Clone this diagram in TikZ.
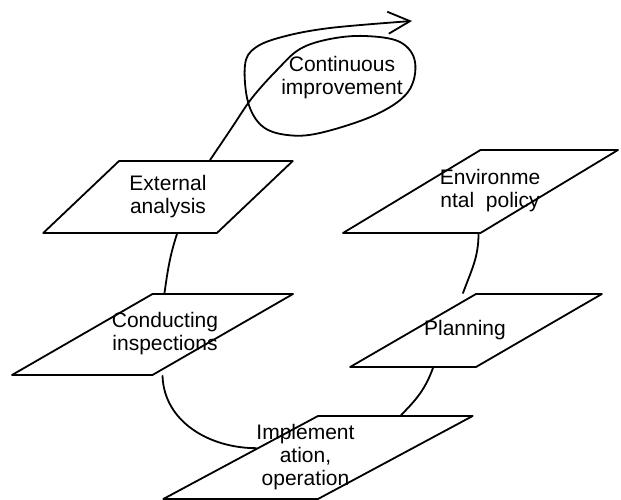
\documentclass[tikz,border=0pt]{standalone}
\usepackage{fontspec}
\setmainfont{Liberation Sans}
\usetikzlibrary{positioning,shapes.geometric,calc,arrows.meta}

% text block nudged sideways inside its shape
\newcommand{\nudged}[2]{\makebox[0pt]{\hspace*{#1}\begin{tabular}{@{}c@{}}#2\end{tabular}}}

\begin{document}
\begin{tikzpicture}[
    x=1pt, y=1pt,
    para/.style = {
        trapezium,
        trapezium left angle=35.5,
        trapezium right angle=144.5,
        trapezium stretches=true,
        draw=black,
        line width=1.8pt,
        align=center,
        inner sep=0pt,
        font=\fontsize{21}{23}\selectfont
    },
    note/.style  = {align=center, inner sep=0pt, font=\fontsize{21}{23}\selectfont},
    link/.style  = {line width=1.8pt, draw=black},
    arrow/.style = {link, -{Straight Barb[length=22pt,width=22pt]}},
    line cap=round, line join=round
]
\useasboundingbox (0,0) rectangle (621,500);

% Left column
\node[para, minimum width=250pt, minimum height=72pt] (extern) at (168,303) {External\\analysis};
\node[para, minimum width=281pt, minimum height=81pt] (inspect) at (152.5,165.5) {\nudged{25pt}{Conducting\\inspections}};

% Right column
\node[para, minimum width=275pt, minimum height=83pt] (policy) at (480.5,308.5) {\nudged{19pt}{Environme\\ntal~ policy}};
\node[para, minimum width=252pt, minimum height=73pt] (plan) at (476,169.5) {\nudged{-22pt}{Planning}};

% Bottom
\node[para, minimum width=310pt, minimum height=83pt] (impl) at (318,42.5) {\nudged{-25pt}{Implement\\ation,\\operation}};

% Top loop
\node[note] (improve) at (342,422) {Continuous\\improvement};
\coordinate (tip) at (412,479);

% Connectors
\draw[link] ($(extern.south)+(9,0)$) to[out=-108,in=82] ($(inspect.north)+(12,0)$);
\draw[link] ($(policy.south)+(-2,0)$) to[out=-90,in=70] ($(plan.north)+(-13,0)$);
\draw[link] ($(plan.south)+(-43,0)$) to[out=-110,in=45] ($(impl.north)+(83,0)$);
\draw[link] ($(inspect.south)+(10,0)$) to[out=-88,in=180]
    ($(impl.bottom left corner)!0.61!(impl.top left corner)$);

% Loop round the label, out to the arrow
\coordinate (loopstart) at ($(extern.north)+(42,0)$);
\draw[arrow] plot[smooth, tension=0.6] coordinates {
    (loopstart) (231,371) (252,402) (277,430) (300,451) (330,461)
    (365,464) (400,458) (415,438) (408,408) (375,385) (320,367)
    (287,365) (262,374) (248,398) (245,435) (255,452) (282,463)
    (330,472) (tip)};

\end{tikzpicture}
\end{document}
